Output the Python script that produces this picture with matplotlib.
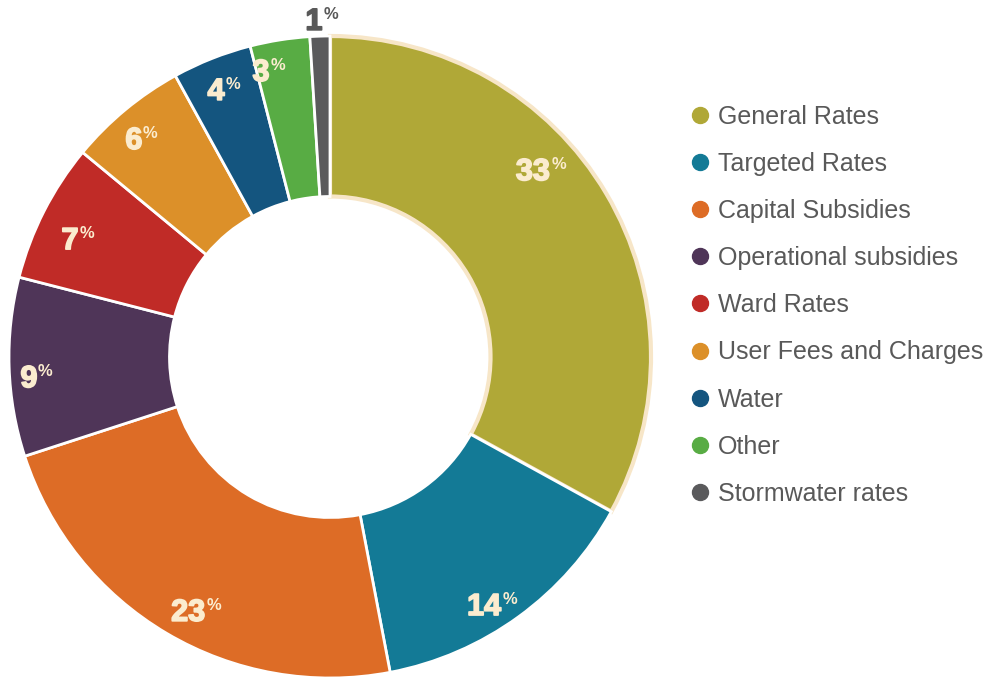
import matplotlib.pyplot as plt
import matplotlib.patheffects as pe
from matplotlib.lines import Line2D

# data
categories = ["General Rates", "Targeted Rates", "Capital Subsidies",
              "Operational subsidies", "Ward Rates", "User Fees and Charges",
              "Water", "Other", "Stormwater rates"]
shares = [33, 14, 23, 9, 7, 6, 4, 3, 1]
colors = ["#b0a837", "#137a96", "#dd6c26", "#4f3558", "#c02b27",
          "#dc9029", "#14557f", "#58ac44", "#5a5a5c"]

# label anchor points (data coords, pie radius = 1)
label_pos = [(0.632, 0.576), (0.480, -0.779), (-0.442, -0.797),
             (-0.938, -0.069), (-0.81, 0.361), (-0.611, 0.673),
             (-0.355, 0.826), (-0.215, 0.885), (-0.05, 1.044)]

cream = "#fbeccf"
grey_text = "#595959"

plt.rcParams['font.family'] = ['Liberation Sans', 'DejaVu Sans']

fig = plt.figure(figsize=(9.9, 6.77), dpi=100)

# pie axes: centre at (330, 357) px, radius 321 px
ax = fig.add_axes([(330 - 321) / 990, (677 - 357 - 321) / 677, 642 / 990, 642 / 677])
wedges, _ = ax.pie(shares, colors=colors, startangle=90, counterclock=False,
                   radius=1, wedgeprops=dict(width=0.5, edgecolor="white", linewidth=2))
wedges[0].set_edgecolor("#f7e6c8")
wedges[0].set_linewidth(3)
wedges[0].set_zorder(0.5)
ax.set_xlim(-1, 1)
ax.set_ylim(-1, 1)
ax.set_aspect("equal")
ax.axis("off")

for i, (x, y) in enumerate(label_pos):
    col = grey_text if i == len(shares) - 1 else cream
    heavy = [pe.withStroke(linewidth=1.2, foreground=col)]
    t = ax.text(x, y, str(shares[i]), ha="center", va="center",
                fontsize=22, fontweight="bold", color=col, path_effects=heavy)
    ax.annotate("%", xy=(1.04, 1.0), xycoords=t, ha="left", va="top",
                fontsize=12, fontweight="bold", color=col)

# legend drawn manually
for i, name in enumerate(categories):
    ypx = 115 + i * 47.1
    yf = 1 - ypx / 677
    fig.add_artist(Line2D([700 / 990], [yf], marker="o", markersize=11.5,
                          color=colors[i], linestyle="none",
                          transform=fig.transFigure))
    fig.text(718 / 990, yf - 2 / 677, name, ha="left", va="center",
             fontsize=18, color=grey_text)

fig.savefig("out.png", dpi=100)
